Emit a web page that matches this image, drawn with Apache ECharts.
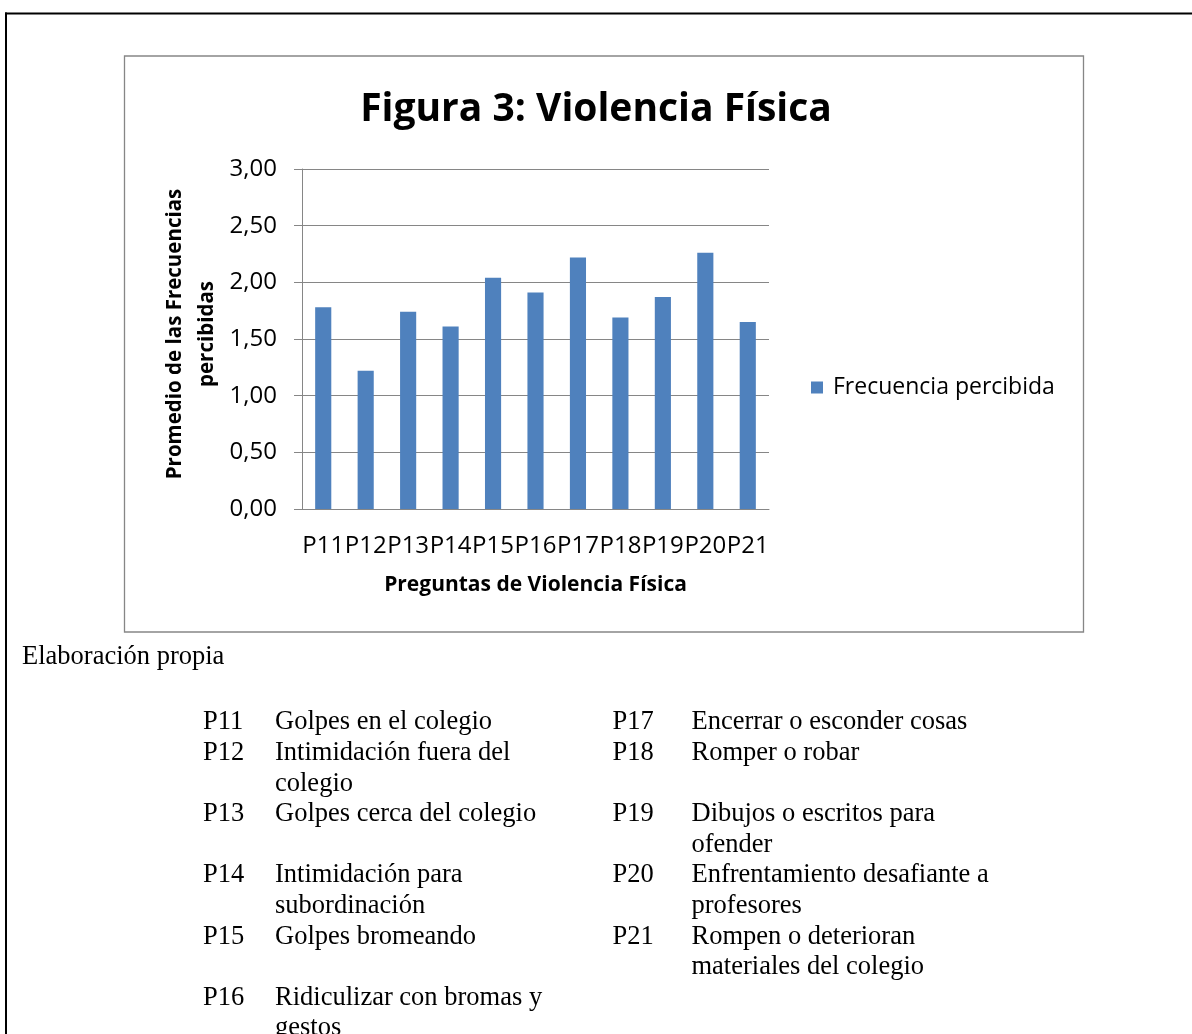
<!DOCTYPE html>
<html>
<head>
<meta charset="utf-8">
<script src="https://cdn.jsdelivr.net/npm/echarts@6/dist/echarts.min.js"></script>
<style>
  html, body { margin: 0; padding: 0; background: #ffffff; }
  #chart { width: 1192px; height: 1034px; }
</style>
</head>
<body>
<div id="chart"></div>
<script>
// Survey questions and their mean perceived frequency
const categories = ['P11', 'P12', 'P13', 'P14', 'P15', 'P16', 'P17', 'P18', 'P19', 'P20', 'P21'];
const frecuenciaPercibida = [1.78, 1.22, 1.74, 1.61, 2.04, 1.91, 2.22, 1.69, 1.87, 2.26, 1.65];
const yTickLabels = ['0,00', '0,50', '1,00', '1,50', '2,00', '2,50', '3,00'];

// Question key shown under the chart, as two columns of a table
const leftCodes = ['P11', 'P12', 'P13', 'P14', 'P15', 'P16'];
const leftTexts = [
  ['Golpes en el colegio'],
  ['Intimidación fuera del', 'colegio'],
  ['Golpes cerca del colegio'],
  ['Intimidación para', 'subordinación'],
  ['Golpes bromeando'],
  ['Ridiculizar con bromas y', 'gestos']
];
const rightCodes = ['P17', 'P18', 'P19', 'P20', 'P21'];
const rightTexts = [
  ['Encerrar o esconder cosas'],
  ['Romper o robar'],
  ['Dibujos o escritos para', 'ofender'],
  ['Enfrentamiento desafiante a', 'profesores'],
  ['Rompen o deterioran', 'materiales del colegio']
];

const SANS = '"Open Sans", "Noto Sans", sans-serif';
const SERIF = '"Liberation Serif", "DejaVu Serif", serif';
const GRAY = '#868686';

// Key table: each table row is as tall as its longest cell
const keyGraphics = [];
const firstLineY = 722.5;
const lineStep = 30.6;
let rowLine = 0;
const rowCount = Math.max(leftCodes.length, rightCodes.length);
function serifText(str, x, y) {
  return {
    type: 'text', x: x, y: y, silent: true,
    style: { text: str, font: '26.5px ' + SERIF, fill: '#000', textVerticalAlign: 'middle' }
  };
}
function addCell(code, lines, xCode, xText, line) {
  keyGraphics.push(serifText(code, xCode, firstLineY + line * lineStep));
  lines.forEach(function (t, i) {
    keyGraphics.push(serifText(t, xText, firstLineY + (line + i) * lineStep));
  });
}
for (let r = 0; r < rowCount; r++) {
  let h = 1;
  if (r < leftCodes.length) { addCell(leftCodes[r], leftTexts[r], 203, 275, rowLine); h = Math.max(h, leftTexts[r].length); }
  if (r < rightCodes.length) { addCell(rightCodes[r], rightTexts[r], 612.5, 691.5, rowLine); h = Math.max(h, rightTexts[r].length); }
  rowLine += h;
}

const chart = echarts.init(document.getElementById('chart'), null, { renderer: 'canvas' });
chart.setOption({
  animation: false,
  backgroundColor: '#ffffff',
  textStyle: { fontFamily: SANS },
  title: {
    text: 'Figura 3: Violencia Física',
    left: 'center',
    top: 85,
    textStyle: { fontFamily: SANS, fontSize: 39, fontWeight: 'bold', color: '#000' }
  },
  legend: {
    data: ['Frecuencia percibida'],
    left: 811,
    top: 376,
    padding: 0,
    orient: 'vertical',
    icon: 'rect',
    itemWidth: 12,
    itemHeight: 12,
    textStyle: { fontFamily: SANS, fontSize: 23, color: '#000', padding: [0, 0, 0, 5] }
  },
  grid: { left: 302, right: 423, top: 169, bottom: 525 },
  xAxis: {
    type: 'category',
    data: categories,
    name: 'Preguntas de Violencia Física',
    nameLocation: 'middle',
    nameGap: 66,
    nameTextStyle: { fontFamily: SANS, fontSize: 21, fontWeight: 'bold', color: '#000' },
    axisLine: { show: true, lineStyle: { color: GRAY, width: 1 } },
    axisTick: { show: false },
    axisLabel: { fontFamily: SANS, fontSize: 24, color: '#000', margin: 25, interval: 0 },
    splitLine: { show: false }
  },
  yAxis: {
    type: 'value',
    min: 0,
    max: 3,
    interval: 0.5,
    axisLine: { show: true, lineStyle: { color: GRAY, width: 1 } },
    axisTick: { show: true, inside: false, length: 8, lineStyle: { color: GRAY, width: 1 } },
    axisLabel: {
      fontFamily: SANS, fontSize: 24, color: '#000', margin: 25,
      formatter: function (v) { return yTickLabels[Math.round(v / 0.5)]; }
    },
    splitLine: { show: true, lineStyle: { color: GRAY, width: 1 } }
  },
  series: [{
    name: 'Frecuencia percibida',
    type: 'bar',
    data: frecuenciaPercibida,
    barWidth: '38%',
    itemStyle: { color: '#4F81BD' }
  }],
  graphic: [
    // page frame
    { type: 'line', shape: { x1: 5, y1: 13.5, x2: 1192, y2: 13.5 }, style: { stroke: '#000', lineWidth: 2 }, silent: true },
    { type: 'line', shape: { x1: 6, y1: 12.5, x2: 6, y2: 1034 }, style: { stroke: '#000', lineWidth: 2 }, silent: true },
    // chart area border
    { type: 'rect', shape: { x: 124.5, y: 56, width: 959, height: 576 }, style: { fill: 'none', stroke: GRAY, lineWidth: 1.3 }, silent: true, z: -1 },
    // y axis title, two lines, rotated
    {
      type: 'text', x: 191, y: 334, rotation: Math.PI / 2, silent: true,
      style: {
        text: 'Promedio de las Frecuencias\npercibidas',
        font: 'bold 20.5px ' + SANS, fill: '#000',
        textAlign: 'center', textVerticalAlign: 'middle', lineHeight: 32
      }
    },
    serifText('Elaboración propia', 22, 657)
  ].concat(keyGraphics)
});
</script>
</body>
</html>
